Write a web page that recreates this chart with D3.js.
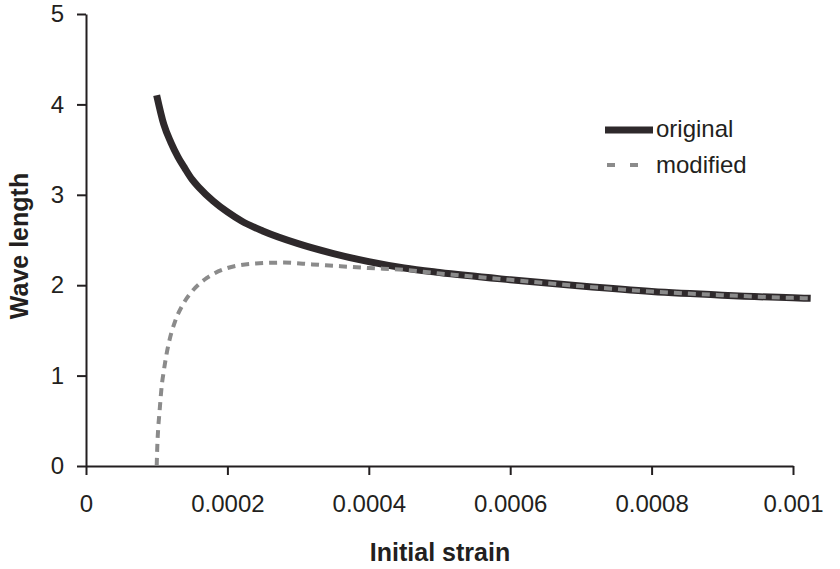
<!DOCTYPE html>
<html>
<head>
<meta charset="utf-8">
<script src="https://cdn.jsdelivr.net/npm/d3@7"></script>
<style>
  body { margin: 0; background: #fff; }
  svg { display: block; }
  text { font-family: "Liberation Sans", Arial, sans-serif; fill: #231f20; }
</style>
</head>
<body>
<div class="chart"></div>
<script>
// values
const strainOriginal = [0.0001, 0.00011, 0.00012, 0.00013, 0.00014, 0.00015, 0.00016, 0.00018, 0.0002, 0.00022, 0.00025,
  0.0003, 0.00035, 0.0004, 0.00045, 0.0005, 0.0006, 0.0007, 0.0008, 0.0009, 0.001, 0.001025];
const lengthOriginal = [4.1, 3.78, 3.58, 3.42, 3.29, 3.17, 3.08, 2.93, 2.81, 2.71, 2.6,
  2.46, 2.35, 2.26, 2.19, 2.14, 2.06, 1.99, 1.93, 1.89, 1.86, 1.855];

const strainModified = [0.0001, 0.000101, 0.000102, 0.000104, 0.000107, 0.00011, 0.000114, 0.000118, 0.000126, 0.000138,
  0.000152, 0.000171, 0.0002, 0.00024, 0.00028, 0.00032, 0.00036, 0.0004, 0.00045, 0.0005, 0.0006, 0.0007, 0.0008,
  0.0009, 0.001, 0.001025];
const lengthModified = [0, 0.25, 0.4, 0.6, 0.88, 1.05, 1.24, 1.39, 1.6, 1.8,
  1.95, 2.08, 2.19, 2.24, 2.25, 2.23, 2.21, 2.19, 2.17, 2.13, 2.06, 1.99, 1.93,
  1.89, 1.86, 1.855];

const seriesNames = ["original", "modified"];
const xTicks = [0, 0.0002, 0.0004, 0.0006, 0.0008, 0.001];
const yTicks = [0, 1, 2, 3, 4, 5];

const width = 840, height = 569;
const margin = {top: 14, right: 47, bottom: 103, left: 86};

const svg = d3.select(".chart").append("svg")
  .attr("width", width)
  .attr("height", height);

const x = d3.scaleLinear().domain([0, 0.001]).range([margin.left, width - margin.right]);
const y = d3.scaleLinear().domain([0, 5]).range([height - margin.bottom, margin.top]);

const line = d3.line()
  .x(d => x(d[0]))
  .y(d => y(d[1]))
  .curve(d3.curveMonotoneX);

const original = strainOriginal.map((s, i) => [s, lengthOriginal[i]]);
const modified = strainModified.map((s, i) => [s, lengthModified[i]]);

// axes
const xAxis = svg.append("g")
  .attr("transform", "translate(0," + y(0) + ")")
  .call(d3.axisBottom(x).tickValues(xTicks).tickSize(9).tickSizeOuter(0).tickPadding(20)
    .tickFormat(d => d === 0 ? "0" : String(+d.toFixed(4))));
const yAxis = svg.append("g")
  .attr("transform", "translate(" + x(0) + ",0)")
  .call(d3.axisLeft(y).tickValues(yTicks).tickSize(9).tickSizeOuter(0).tickPadding(13)
    .tickFormat(d3.format("d")));

[xAxis, yAxis].forEach(g => {
  g.selectAll("path, line").attr("stroke", "#231f20").attr("stroke-width", 2);
  g.selectAll("text").style("font-size", "24px").attr("fill", "#231f20");
});

// curves
svg.append("path")
  .datum(original)
  .attr("fill", "none")
  .attr("stroke", "#2e292b")
  .attr("stroke-width", 7)
  .attr("d", line);

svg.append("path")
  .datum(modified)
  .attr("fill", "none")
  .attr("stroke", "#8b8b8b")
  .attr("stroke-width", 4)
  .attr("stroke-dasharray", "8,6")
  .attr("d", line);

// titles
svg.append("text")
  .attr("x", 440)
  .attr("y", 561)
  .attr("text-anchor", "middle")
  .style("font-size", "25px")
  .style("font-weight", "bold")
  .text("Initial strain");

svg.append("text")
  .attr("transform", "translate(28," + 246 + ") rotate(-90)")
  .attr("text-anchor", "middle")
  .style("font-size", "25px")
  .style("font-weight", "bold")
  .text("Wave length");

// legend
const legend = svg.append("g").attr("transform", "translate(605,130)");
legend.append("line")
  .attr("x1", 0).attr("x2", 48).attr("y1", 0).attr("y2", 0)
  .attr("stroke", "#2e292b").attr("stroke-width", 7);
legend.append("line")
  .attr("x1", 2).attr("x2", 48).attr("y1", 35).attr("y2", 35)
  .attr("stroke", "#8b8b8b").attr("stroke-width", 4)
  .attr("stroke-dasharray", "8,15");
legend.selectAll("text.item")
  .data(seriesNames)
  .enter()
  .append("text")
  .attr("class", "item")
  .attr("x", 51)
  .attr("y", (d, i) => 7 + i * 36)
  .style("font-size", "24px")
  .text(d => d);
</script>
</body>
</html>
